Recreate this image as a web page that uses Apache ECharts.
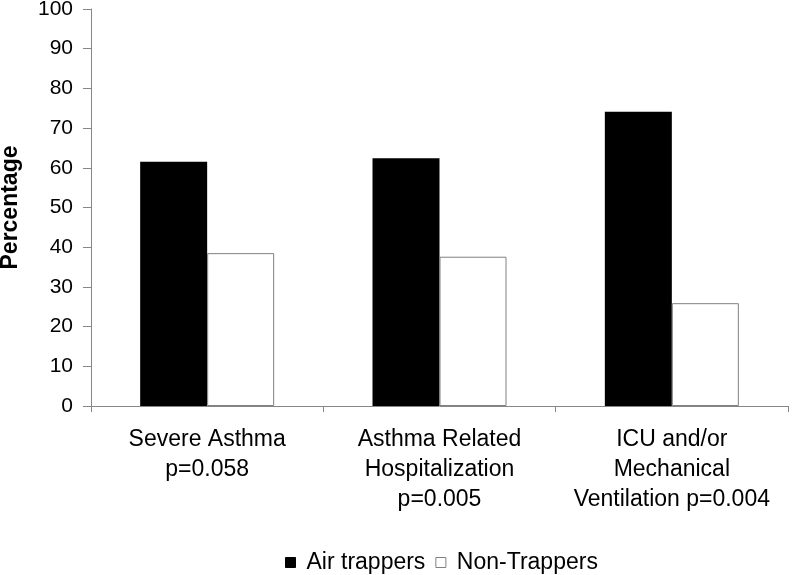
<!DOCTYPE html>
<html>
<head>
<meta charset="utf-8">
<script src="https://cdn.jsdelivr.net/npm/echarts@6/dist/echarts.min.js"></script>
<style>
html,body{margin:0;padding:0;background:#fff;}
#chart{width:794px;height:575px;}
</style>
</head>
<body>
<div id="chart"></div>
<script>
var categories = ["Severe Asthma\np=0.058", "Asthma Related\nHospitalization\np=0.005", "ICU and/or\nMechanical\nVentilation p=0.004"];
var airTrappers = [61.5, 62.4, 74.1];
var nonTrappers = [38.5, 37.6, 25.9];
var seriesNames = ["Air trappers", "Non-Trappers"];
var yTicks = [0, 10, 20, 30, 40, 50, 60, 70, 80, 90, 100];

var FONT = "Liberation Sans, Arial, sans-serif";
var chart = echarts.init(document.getElementById('chart'), null, {renderer: 'canvas'});
chart.setOption({
  animation: false,
  backgroundColor: '#fff',
  textStyle: {fontFamily: FONT, color: '#000'},
  grid: {left: 91, right: 6, top: 9, bottom: 169, containLabel: false, outerBoundsMode: 'none'},
  legend: {
    left: 285,
    top: 551,
    itemWidth: 10,
    itemHeight: 10,
    itemGap: 10,
    icon: 'rect',
    padding: 0,
    textStyle: {fontFamily: FONT, fontSize: 23, color: '#000', padding: [0, 0, 0, 6]},
    data: [
      {name: seriesNames[0], itemStyle: {color: '#000', borderColor: '#000', borderWidth: 1}},
      {name: seriesNames[1], itemStyle: {color: '#fff', borderColor: '#808080', borderWidth: 1}}
    ]
  },
  xAxis: {
    type: 'category',
    data: categories,
    boundaryGap: true,
    axisLine: {lineStyle: {color: '#868686', width: 1}},
    axisTick: {show: true, alignWithLabel: false, length: 6, lineStyle: {color: '#868686'}},
    axisLabel: {interval: 0, margin: 19, fontFamily: FONT, fontSize: 23, lineHeight: 30, color: '#000', align: 'center'}
  },
  yAxis: {
    type: 'value',
    min: 0, max: 100, interval: 10,
    name: 'Percentage',
    nameLocation: 'middle',
    nameRotate: 90,
    nameGap: 69,
    nameTextStyle: {fontFamily: FONT, fontSize: 23, fontWeight: 'bold', color: '#000'},
    axisLine: {show: true, lineStyle: {color: '#868686', width: 1}},
    axisTick: {show: true, length: 8, inside: false, lineStyle: {color: '#868686'}},
    splitLine: {show: false},
    axisLabel: {margin: 18, fontFamily: FONT, fontSize: 21, color: '#000',
      formatter: function(v){ return yTicks.indexOf(v) >= 0 ? String(v) : ''; }}
  },
  series: [
    {
      name: seriesNames[0], type: 'bar', data: airTrappers,
      barWidth: 67, barGap: '0%',
      itemStyle: {color: '#000', borderColor: '#000', borderWidth: 0}
    },
    {
      name: seriesNames[1], type: 'bar', data: nonTrappers,
      barWidth: 67, barGap: '0%',
      itemStyle: {color: '#fff', borderColor: '#808080', borderWidth: 1}
    }
  ]
});
</script>
</body>
</html>
